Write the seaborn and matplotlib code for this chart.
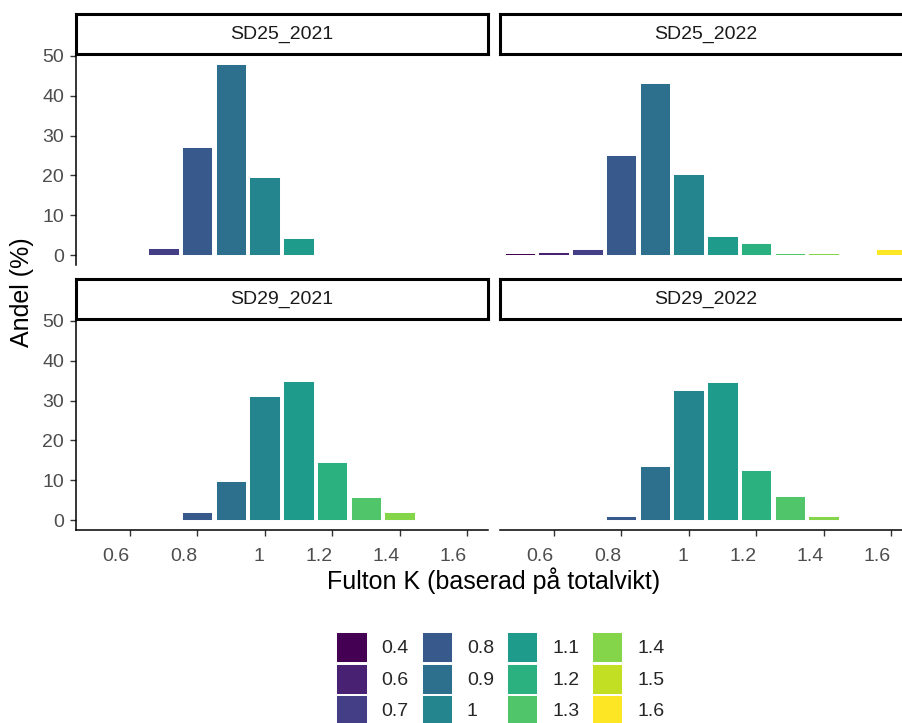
import matplotlib
matplotlib.use("Agg")
import matplotlib.pyplot as plt
from matplotlib.patches import Patch
import seaborn as sns
import pandas as pd

# ---------------- data ----------------
panels = ["SD25_2021", "SD25_2022", "SD29_2021", "SD29_2022"]

sd25_2021_k = [0.7, 0.8, 0.9, 1.0, 1.1]
sd25_2021_andel = [1.9, 27.1, 48.0, 19.7, 4.3]
sd25_2021_klass = ["0.7", "0.8", "0.9", "1", "1.1"]

sd25_2022_k = [0.5, 0.6, 0.7, 0.8, 0.9, 1.0, 1.1, 1.2, 1.3, 1.4, 1.6]
sd25_2022_andel = [0.5, 0.8, 1.5, 25.2, 43.2, 20.4, 4.9, 3.1, 0.5, 0.5, 1.5]
sd25_2022_klass = ["0.4", "0.6", "0.7", "0.8", "0.9", "1", "1.1", "1.2", "1.3", "1.4", "1.6"]

sd29_2021_k = [0.8, 0.9, 1.0, 1.1, 1.2, 1.3, 1.4]
sd29_2021_andel = [2.2, 9.8, 31.2, 35.0, 14.5, 5.9, 2.2]
sd29_2021_klass = ["0.8", "0.9", "1", "1.1", "1.2", "1.3", "1.4"]

sd29_2022_k = [0.8, 0.9, 1.0, 1.1, 1.2, 1.3, 1.4]
sd29_2022_andel = [1.2, 13.5, 32.6, 34.6, 12.5, 6.0, 1.2]
sd29_2022_klass = ["0.8", "0.9", "1", "1.1", "1.2", "1.3", "1.4"]

klass_levels = ["0.4", "0.6", "0.7", "0.8", "0.9", "1", "1.1", "1.2", "1.3", "1.4", "1.5", "1.6"]
klass_colors = ["#440154", "#482173", "#433E85", "#38598C", "#2D708E", "#25858E",
                "#1E9B8A", "#2BB07F", "#51C56A", "#85D54A", "#C2DF23", "#FDE725"]

x_ticks = [0.6, 0.8, 1.0, 1.2, 1.4, 1.6]
x_ticklabels = ["0.6", "0.8", "1", "1.2", "1.4", "1.6"]
y_ticks = [0, 10, 20, 30, 40, 50]

frames = []
for name, k, a, c in [
    ("SD25_2021", sd25_2021_k, sd25_2021_andel, sd25_2021_klass),
    ("SD25_2022", sd25_2022_k, sd25_2022_andel, sd25_2022_klass),
    ("SD29_2021", sd29_2021_k, sd29_2021_andel, sd29_2021_klass),
    ("SD29_2022", sd29_2022_k, sd29_2022_andel, sd29_2022_klass),
]:
    frames.append(pd.DataFrame({"panel": name, "K": k, "andel": a, "klass": c}))
df = pd.concat(frames, ignore_index=True)
pal = dict(zip(klass_levels, klass_colors))

# ---------------- figure ----------------
sns.set_theme(style="white")
plt.rcParams["font.family"] = ["Liberation Sans", "DejaVu Sans"]

W, H = 903, 723
fig = plt.figure(figsize=(W / 100, H / 100), dpi=100)

def fx(px):
    return px / W

def fy(px):
    return 1 - px / H

panel_w = 411.7
panel_h = 211
strip_h = 40
lefts = [76, 500]
tops = [54, 319]

ymax = df["andel"].max()
ylim = (-0.05 * ymax, 1.05 * ymax)
xlim = (0.441, 1.661)

tick_col = "#4D4D4D"
line_col = "#333333"

for i, name in enumerate(panels):
    r, c = divmod(i, 2)
    l, t = lefts[c], tops[r]
    ax = fig.add_axes([fx(l), fy(t + panel_h), panel_w / W, panel_h / H])
    sub = df[df["panel"] == name]
    sns.barplot(data=sub, x="K", y="andel", hue="klass", palette=pal,
                hue_order=klass_levels, native_scale=True, dodge=False,
                width=0.9, edgecolor="white", linewidth=0.7, saturation=1,
                errorbar=None, legend=False, ax=ax)
    ax.set_xlim(*xlim)
    ax.set_ylim(*ylim)
    ax.set_xlabel("")
    ax.set_ylabel("")
    ax.set_facecolor("white")
    for s in ["top", "right"]:
        ax.spines[s].set_visible(False)
    ax.spines["left"].set_visible(c == 0)
    ax.spines["bottom"].set_visible(r == 1)
    for s in ["left", "bottom"]:
        ax.spines[s].set_color("black")
        ax.spines[s].set_linewidth(1.1)
    ax.set_xticks(x_ticks)
    ax.set_xticklabels(x_ticklabels, ha="right")
    ax.set_yticks(y_ticks)
    ax.tick_params(axis="both", colors=line_col, labelcolor=tick_col,
                   labelsize=14, length=4.5, width=1.0, pad=4)
    ax.tick_params(axis="x", bottom=(r == 1), labelbottom=(r == 1), pad=8.5)
    ax.tick_params(axis="y", left=(c == 0), labelleft=(c == 0))
    ax.grid(False)

    # strip
    sax = fig.add_axes([fx(l), fy(t), panel_w / W, strip_h / H])
    sax.set_xticks([])
    sax.set_yticks([])
    sax.set_facecolor("white")
    for s in sax.spines.values():
        s.set_visible(True)
        s.set_color("black")
        s.set_linewidth(2.2)
    sax.text(0.5, 0.5, name, ha="center", va="center", fontsize=14,
             color="#1A1A1A", transform=sax.transAxes)

# axis titles
fig.text(fx(22), fy(292), "Andel (%)", rotation=90, ha="center", va="center",
         fontsize=18, color="black")
fig.text(fx(494), fy(581), "Fulton K (baserad på totalvikt)", ha="center",
         va="center", fontsize=18, color="black")

# legend
handles = [Patch(facecolor=pal[l], edgecolor="white", linewidth=0.7) for l in klass_levels]
fig.legend(handles, klass_levels, loc="upper center", bbox_to_anchor=(fx(500.5), fy(632)),
           ncol=4, frameon=False, fontsize=14, handlelength=1.55, handleheight=2.0,
           handletextpad=0.77, columnspacing=0.67, labelspacing=0.08,
           borderpad=0, borderaxespad=0)

fig.savefig("out.png", dpi=100, facecolor="white")
